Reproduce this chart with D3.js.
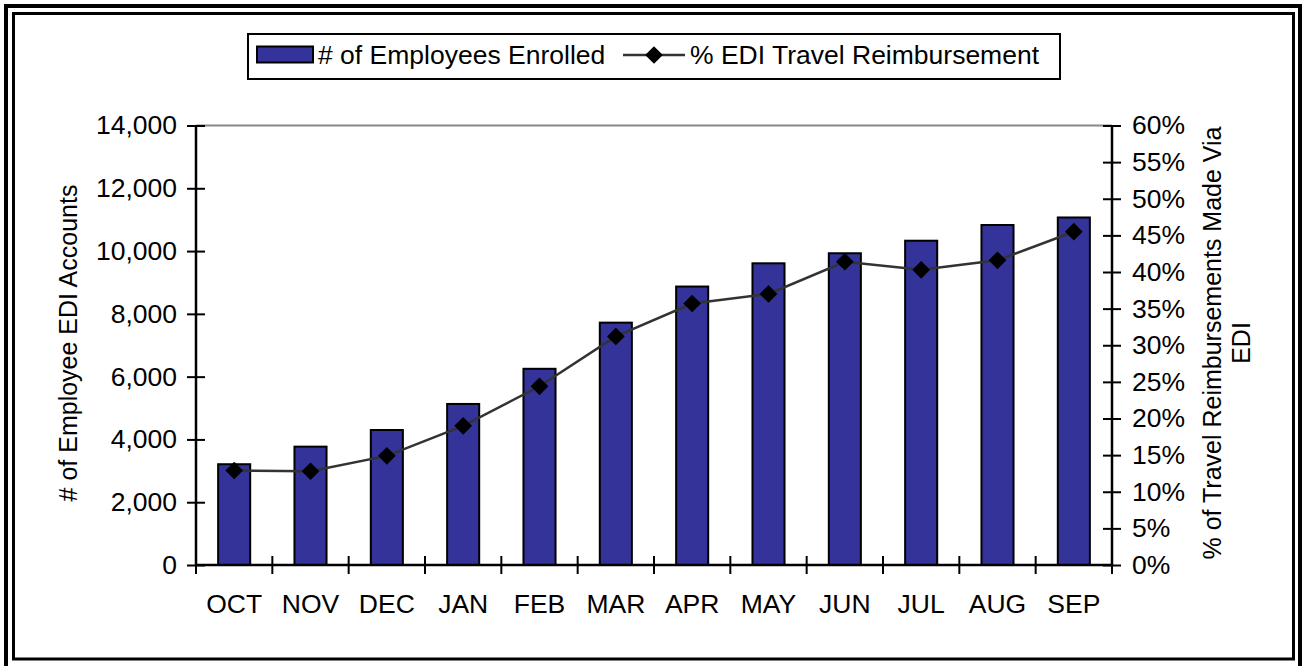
<!DOCTYPE html>
<html>
<head>
<meta charset="utf-8">
<script src="https://cdn.jsdelivr.net/npm/d3@7"></script>
<style>
  body { margin: 0; background: #fff; }
  svg text { font-family: "Liberation Sans", Arial, sans-serif; fill: #000; }
</style>
</head>
<body>
<div id="chart"></div>
<script>
var months = ["OCT", "NOV", "DEC", "JAN", "FEB", "MAR", "APR", "MAY", "JUN", "JUL", "AUG", "SEP"];
var enrolled = [3210, 3770, 4300, 5130, 6250, 7720, 8870, 9610, 9930, 10330, 10830, 11070];
var ediPct = [12.9, 12.8, 14.9, 19.0, 24.4, 31.2, 35.7, 37.0, 41.4, 40.3, 41.6, 45.5];
var leftTicks = [0, 2000, 4000, 6000, 8000, 10000, 12000, 14000];
var rightTicks = [0, 5, 10, 15, 20, 25, 30, 35, 40, 45, 50, 55, 60];

var W = 1306, H = 666;
var fs = 26.5;   // tick / legend text
var tfs = 25;    // axis titles

var svg = d3.select("#chart").append("svg")
  .attr("width", W)
  .attr("height", H);

// double frame
svg.append("rect").attr("x", 6).attr("y", 6).attr("width", 1294).attr("height", 662)
  .attr("fill", "none").attr("stroke", "#000").attr("stroke-width", 4);
svg.append("rect").attr("x", 13.5).attr("y", 13.5).attr("width", 1280).attr("height", 645.5)
  .attr("fill", "none").attr("stroke", "#000").attr("stroke-width", 3);

var x = d3.scaleBand().domain(months).range([196, 1112]).padding(0);
var yL = d3.scaleLinear().domain([0, 14000]).range([565, 125.5]);
var yR = d3.scaleLinear().domain([0, 60]).range([565, 125.5]);
var barW = x.bandwidth() * 0.42;

// top gridline
svg.append("line")
  .attr("x1", 196).attr("x2", 1112)
  .attr("y1", yL(14000)).attr("y2", yL(14000))
  .attr("stroke", "#888").attr("stroke-width", 2);

// bars
svg.selectAll(".bar")
  .data(months)
  .enter()
  .append("rect")
    .attr("class", "bar")
    .attr("x", function(d) { return x(d) + (x.bandwidth() - barW) / 2; })
    .attr("y", function(d, i) { return yL(enrolled[i]); })
    .attr("width", barW)
    .attr("height", function(d, i) { return yL(0) - yL(enrolled[i]); })
    .attr("fill", "#333399")
    .attr("stroke", "#000")
    .attr("stroke-width", 2);

// left axis
var gL = svg.append("g")
  .attr("transform", "translate(196,0)")
  .call(d3.axisLeft(yL).tickValues(leftTicks).tickSize(9).tickPadding(10)
    .tickFormat(d3.format(",")));
gL.select(".domain").remove();
gL.selectAll(".tick line").attr("x1", 9).attr("stroke", "#000").attr("stroke-width", 2);
gL.selectAll(".tick text").style("font-size", fs + "px").attr("font-family", null);
gL.append("line").attr("x1", 0).attr("x2", 0).attr("y1", 125.5).attr("y2", 565)
  .attr("stroke", "#000").attr("stroke-width", 2.5);

// right axis
var gR = svg.append("g")
  .attr("transform", "translate(1112,0)")
  .call(d3.axisRight(yR).tickValues(rightTicks).tickSize(9).tickPadding(11)
    .tickFormat(function(d) { return d + "%"; }));
gR.select(".domain").remove();
gR.selectAll(".tick line").attr("x1", -9).attr("stroke", "#000").attr("stroke-width", 2);
gR.selectAll(".tick text").style("font-size", fs + "px").attr("font-family", null);
gR.append("line").attr("x1", 0).attr("x2", 0).attr("y1", 125.5).attr("y2", 565)
  .attr("stroke", "#000").attr("stroke-width", 2.5);

// x axis
var gX = svg.append("g");
gX.append("line").attr("x1", 196).attr("x2", 1112).attr("y1", 565).attr("y2", 565)
  .attr("stroke", "#000").attr("stroke-width", 2.5);
var bounds = months.map(function(d) { return x(d); }).concat([x.range()[1]]);
gX.selectAll(".xt").data(bounds).enter().append("line")
  .attr("x1", function(d) { return d; }).attr("x2", function(d) { return d; })
  .attr("y1", 556).attr("y2", 574)
  .attr("stroke", "#000").attr("stroke-width", 2);
gX.selectAll(".xl").data(months).enter().append("text")
  .attr("x", function(d) { return x(d) + x.bandwidth() / 2; })
  .attr("y", 613)
  .attr("text-anchor", "middle")
  .style("font-size", fs + "px")
  .text(function(d) { return d; });

// line series
var line = d3.line()
  .x(function(d, i) { return x(months[i]) + x.bandwidth() / 2; })
  .y(function(d) { return yR(d); });
svg.append("path")
  .datum(ediPct)
  .attr("d", line)
  .attr("fill", "none")
  .attr("stroke", "#333")
  .attr("stroke-width", 2.5);

var diamond = d3.symbol().type(d3.symbolDiamond2).size(200);
svg.selectAll(".pt")
  .data(ediPct)
  .enter()
  .append("path")
    .attr("d", diamond)
    .attr("transform", function(d, i) {
      return "translate(" + (x(months[i]) + x.bandwidth() / 2) + "," + yR(d) + ")";
    })
    .attr("fill", "#000");

// axis titles
svg.append("text")
  .attr("transform", "translate(77,343) rotate(-90)")
  .attr("text-anchor", "middle")
  .style("font-size", tfs + "px")
  .text("# of Employee EDI Accounts");
svg.append("text")
  .attr("transform", "translate(1221,343) rotate(-90)")
  .attr("text-anchor", "middle")
  .style("font-size", tfs + "px")
  .text("% of Travel Reimbursements Made Via");
svg.append("text")
  .attr("transform", "translate(1250,343) rotate(-90)")
  .attr("text-anchor", "middle")
  .style("font-size", tfs + "px")
  .text("EDI");

// legend
var lg = svg.append("g");
lg.append("rect").attr("x", 248).attr("y", 34).attr("width", 812).attr("height", 45)
  .attr("fill", "#fff").attr("stroke", "#000").attr("stroke-width", 2);
lg.append("rect").attr("x", 257).attr("y", 46.5).attr("width", 56).attr("height", 16)
  .attr("fill", "#333399").attr("stroke", "#000").attr("stroke-width", 2);
lg.append("text").attr("x", 318).attr("y", 64).style("font-size", fs + "px")
  .text("# of Employees Enrolled");
lg.append("line").attr("x1", 623).attr("x2", 685).attr("y1", 55).attr("y2", 55)
  .attr("stroke", "#333").attr("stroke-width", 2.5);
lg.append("path").attr("d", diamond).attr("transform", "translate(654,55)").attr("fill", "#000");
lg.append("text").attr("x", 690).attr("y", 64).style("font-size", fs + "px")
  .text("% EDI Travel Reimbursement");
</script>
</body>
</html>
